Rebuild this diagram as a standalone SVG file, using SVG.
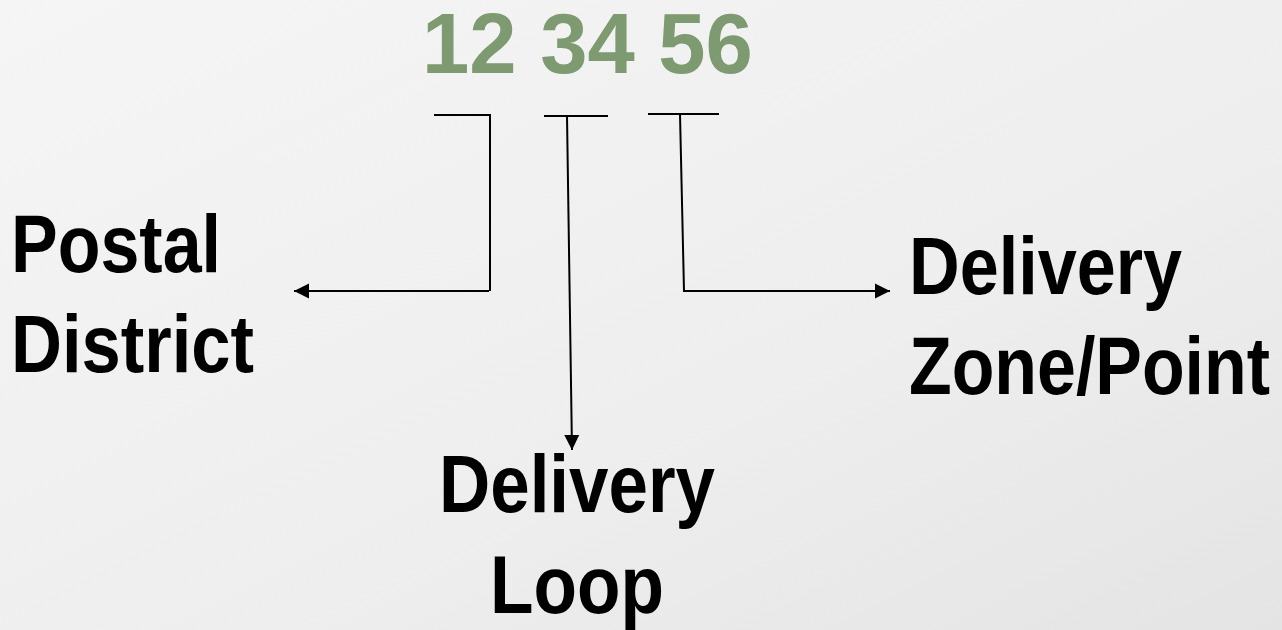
<svg xmlns="http://www.w3.org/2000/svg" width="1282" height="630" viewBox="0 0 1282 630">
  <defs>
    <linearGradient id="bg" x1="0" y1="0" x2="1" y2="1">
      <stop offset="0" stop-color="#f5f5f5"/>
      <stop offset="0.6" stop-color="#eeeeee"/>
      <stop offset="1" stop-color="#e4e4e4"/>
    </linearGradient>
    <marker id="arrow" markerUnits="userSpaceOnUse" markerWidth="16" markerHeight="16" viewBox="0 0 16 16" refX="15" refY="8" orient="auto">
      <path d="M0,0.5 L15,8 L0,15.5 Z" fill="#000"/>
    </marker>
    <style>
      .lbl { font-family: "Liberation Sans", Arial, sans-serif; font-weight: bold; font-size: 82px; fill: #000; }
      .num { font-family: "Liberation Sans", Arial, sans-serif; font-weight: bold; font-size: 85px; fill: #7d9a70; }
      .ln { stroke: #000; stroke-width: 2; fill: none; }
      .arr { stroke: #000; stroke-width: 2; fill: none; marker-end: url(#arrow); }
    </style>
  </defs>
  <rect width="1282" height="630" fill="url(#bg)"/>

  <g id="code">
    <text class="num" x="422" y="73">12 34 56</text>
  </g>

  <g id="connectors">
    <!-- Postal District bracket -->
    <line class="ln" x1="434" y1="115" x2="491" y2="115"/>
    <line class="ln" x1="490" y1="114" x2="490" y2="291"/>
    <line class="arr" x1="489" y1="291" x2="294" y2="291"/>
    <!-- Delivery Loop bracket -->
    <line class="ln" x1="544" y1="116" x2="608" y2="116"/>
    <line class="arr" x1="567" y1="116" x2="572" y2="450"/>
    <!-- Delivery Zone/Point bracket -->
    <line class="ln" x1="648" y1="114" x2="719" y2="114"/>
    <line class="ln" x1="680" y1="114" x2="684" y2="291"/>
    <line class="arr" x1="683" y1="291" x2="890" y2="291"/>
  </g>

  <g id="postal-district">
    <text class="lbl" x="11" y="272" textLength="210" lengthAdjust="spacingAndGlyphs">Postal</text>
    <text class="lbl" x="11" y="372" textLength="243" lengthAdjust="spacingAndGlyphs">District</text>
  </g>

  <g id="delivery-loop">
    <text class="lbl" x="439" y="512" textLength="276" lengthAdjust="spacingAndGlyphs">Delivery</text>
    <text class="lbl" x="490" y="613" textLength="174" lengthAdjust="spacingAndGlyphs">Loop</text>
  </g>

  <g id="delivery-zone">
    <text class="lbl" x="909" y="294" textLength="273" lengthAdjust="spacingAndGlyphs">Delivery</text>
    <text class="lbl" x="909" y="394" textLength="361" lengthAdjust="spacingAndGlyphs">Zone/Point</text>
  </g>
</svg>
